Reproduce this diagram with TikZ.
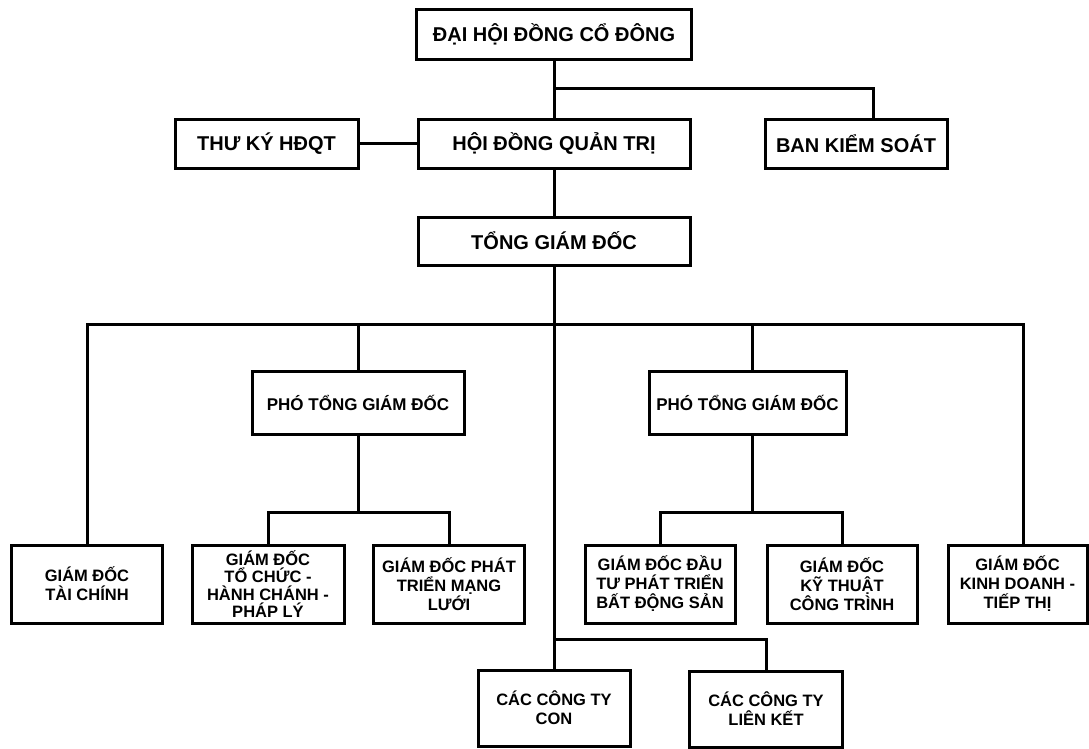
\documentclass[tikz,border=0pt]{standalone}
\usepackage{fontspec}
\setmainfont{Liberation Sans}
\tikzset{
  box/.style={draw, line width=3pt, rectangle, align=center, inner sep=1pt,
    font=\bfseries\fontsize{16.5}{19}\selectfont},
  topbox/.style={box, minimum height=49, font=\bfseries\fontsize{20}{22}\selectfont},
  phobox/.style={box, minimum width=212, minimum height=63, font=\bfseries\fontsize{17}{19}\selectfont},
  unitbox/.style={box, minimum height=78},
  line/.style={line width=3pt},
}
\begin{document}
\begin{tikzpicture}[x=1pt, y=-1pt]
  \useasboundingbox (0,0) rectangle (1089,748);
  % board level
  \node[topbox, minimum width=275, minimum height=50] (dhcd) at (554,34) {ĐẠI HỘI ĐỒNG CỔ ĐÔNG};
  \node[topbox, minimum width=272] (hdqt) at (554,143.5) {HỘI ĐỒNG QUẢN TRỊ};
  \node[topbox, minimum width=183] (thuky) at (266.5,143.5) {THƯ KÝ HĐQT};
  \node[topbox, minimum width=182] (bks) at (856,143.5) {BAN KIỂM SOÁT};
  \node[topbox, minimum width=272, minimum height=48] (tgd) at (554,241) {TỔNG GIÁM ĐỐC};
  % deputies
  \node[phobox] (pho1) at (358,402.5) {PHÓ TỔNG GIÁM ĐỐC};
  \node[phobox, minimum width=197] (pho2) at (747.5,402.5) {PHÓ TỔNG GIÁM ĐỐC};
  % directors
  \node[unitbox, minimum width=151] (taichinh) at (87,584) {GIÁM ĐỐC\\TÀI CHÍNH};
  \node[unitbox, minimum width=152, font=\bfseries\fontsize{16.5}{17.5}\selectfont] (tochuc) at (268,584)
    {GIÁM ĐỐC\\TỔ CHỨC -\\HÀNH CHÁNH -\\PHÁP LÝ};
  \node[unitbox, minimum width=151] (mangluoi) at (449,584) {GIÁM ĐỐC PHÁT\\TRIỂN MẠNG\\LƯỚI};
  \node[unitbox, minimum width=150] (dautu) at (660,584) {GIÁM ĐỐC ĐẦU\\TƯ PHÁT TRIỂN\\BẤT ĐỘNG SẢN};
  \node[unitbox, minimum width=150] (kythuat) at (842,584) {GIÁM ĐỐC\\KỸ THUẬT\\CÔNG TRÌNH};
  \node[unitbox, minimum width=139] (kinhdoanh) at (1017.5,584) {GIÁM ĐỐC\\KINH DOANH -\\TIẾP THỊ};
  % companies
  \node[box, minimum width=152, minimum height=76] (con) at (554,708) {CÁC CÔNG TY\\CON};
  \node[box, minimum width=153, minimum height=76] (lienket) at (766,709) {CÁC CÔNG TY\\LIÊN KẾT};
  % connectors
  \coordinate (kbs) at (873,88);
  \coordinate (busL) at (87,324);
  \coordinate (busR) at (1023,324);
  \coordinate (p2) at (752,324);
  \coordinate (sub1) at (358,512);
  \coordinate (sub2) at (752,512);
  \coordinate (ct) at (554,639);
  \draw[line] (dhcd.south) -- (hdqt.north);
  \draw[line] (dhcd.south |- kbs) -- (kbs) -- (kbs |- bks.north);
  \draw[line] (thuky) -- (hdqt);
  \draw[line] (hdqt) -- (tgd);
  \draw[line] (tgd.south) -- (con.north);
  \draw[line] (taichinh.north) -- (busL) -- (busR) -- (busR |- kinhdoanh.north);
  \draw[line] (pho1.north) -- (pho1.north |- busL);
  \draw[line] (p2) -- (p2 |- pho2.north);
  \draw[line] (pho1.south) -- (sub1);
  \draw[line] (tochuc.north) |- (sub1) -| (mangluoi.north);
  \draw[line] (p2 |- pho2.south) -- (sub2);
  \draw[line] (dautu.north) |- (sub2) -| (kythuat.north);
  \draw[line] (ct) -| (lienket.north);
\end{tikzpicture}
\end{document}
